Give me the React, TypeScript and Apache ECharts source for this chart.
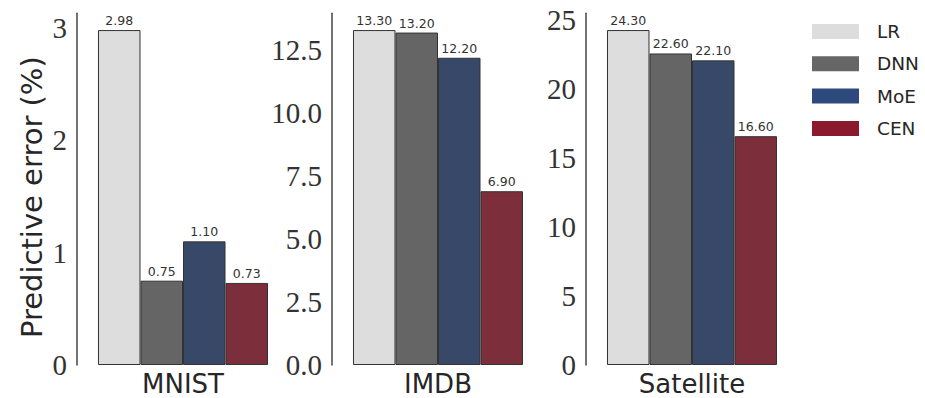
import React, { useEffect, useRef } from "react";
import * as echarts from "echarts";

const datasets = ["MNIST", "IMDB", "Satellite"];
const methods = ["LR", "DNN", "MoE", "CEN"];
const lrValues = [2.98, 13.3, 24.3];
const dnnValues = [0.75, 13.2, 22.6];
const moeValues = [1.1, 12.2, 22.1];
const cenValues = [0.73, 6.9, 16.6];
const tickIntervals = [1, 2.5, 5];
const tickDecimals = [0, 1, 0];

const barColors = ["#dddddd", "#656565", "#374868", "#7d2e3b"];
const legendColors = ["#dddddd", "#666666", "#2e4a7d", "#8b1a2e"];

export default function App() {
  const ref = useRef<HTMLDivElement>(null);
  useEffect(() => {
    if (!ref.current) return;
    const chart = echarts.init(ref.current, null, { renderer: "svg" });
    const values = [lrValues, dnnValues, moeValues, cenValues];
    const gridLefts = [77, 332, 586];
    const grids = gridLefts.map((l) => ({ left: l, top: 13.3, width: 212, height: 351.7 }));
    const xAxes = datasets.map((d, i) => ({
      type: "category",
      gridIndex: i,
      data: [d],
      axisLine: { show: false },
      axisTick: { show: false },
      axisLabel: {
        fontFamily: "DejaVu Sans",
        fontSize: 26,
        color: "#262626",
        margin: 6,
      },
    }));
    const yAxes = datasets.map((_, i) => {
      const maxV = Math.max(...values.map((v) => v[i])) * 1.05;
      const iv = tickIntervals[i];
      return {
        type: "value",
        gridIndex: i,
        min: 0,
        max: maxV,
        interval: iv,
        name: i === 0 ? "Predictive error (%)" : "",
        nameLocation: "middle",
        nameGap: 31,
        nameTextStyle: {
          fontFamily: "DejaVu Sans",
          fontSize: 29,
          color: "#262626",
          padding: [0, 16, 0, 0],
        },
        axisLine: { show: true, lineStyle: { color: "#444", width: 1.5 } },
        axisTick: { show: false },
        splitLine: { show: false },
        axisLabel: {
          fontFamily: "Liberation Serif",
          fontSize: 29,
          color: "#333",
          margin: 10,
          formatter: (v: number) => {
            const r = v / iv;
            if (Math.abs(r - Math.round(r)) > 1e-6) return "";
            return v.toFixed(tickDecimals[i]);
          },
        },
      };
    });
    const series: any[] = [];
    datasets.forEach((_, i) => {
      methods.forEach((m, j) => {
        series.push({
          type: "bar",
          name: m,
          xAxisIndex: i,
          yAxisIndex: i,
          data: [values[j][i]],
          barGap: "0%",
          barCategoryGap: "19.8%",
          itemStyle: { color: barColors[j], borderColor: "#333", borderWidth: 1 },
          label: {
            show: true,
            position: "top",
            distance: 3,
            fontFamily: "DejaVu Sans",
            fontSize: 12.5,
            color: "#333",
            formatter: (p: any) => Number(p.value).toFixed(2),
          },
        });
      });
    });
    chart.setOption({
      animation: false,
      backgroundColor: "#ffffff",
      grid: grids,
      xAxis: xAxes,
      yAxis: yAxes,
      legend: {
        orient: "vertical",
        left: 812,
        top: 21.5,
        padding: 0,
        itemWidth: 47,
        itemHeight: 15,
        itemGap: 12.3,
        icon: "rect",
        data: methods.map((m, j) => ({
          name: m,
          itemStyle: { color: legendColors[j], borderWidth: 0 },
        })),
        textStyle: {
          fontFamily: "DejaVu Sans",
          fontSize: 18.5,
          lineHeight: 20,
          color: "#262626",
          padding: [0, 0, 0, 13],
        },
      },
      series,
    });
    return () => chart.dispose();
  }, []);
  return (
    <div
      ref={ref}
      style={{ position: "fixed", left: 0, top: 0, width: 925, height: 398 }}
    />
  );
}
